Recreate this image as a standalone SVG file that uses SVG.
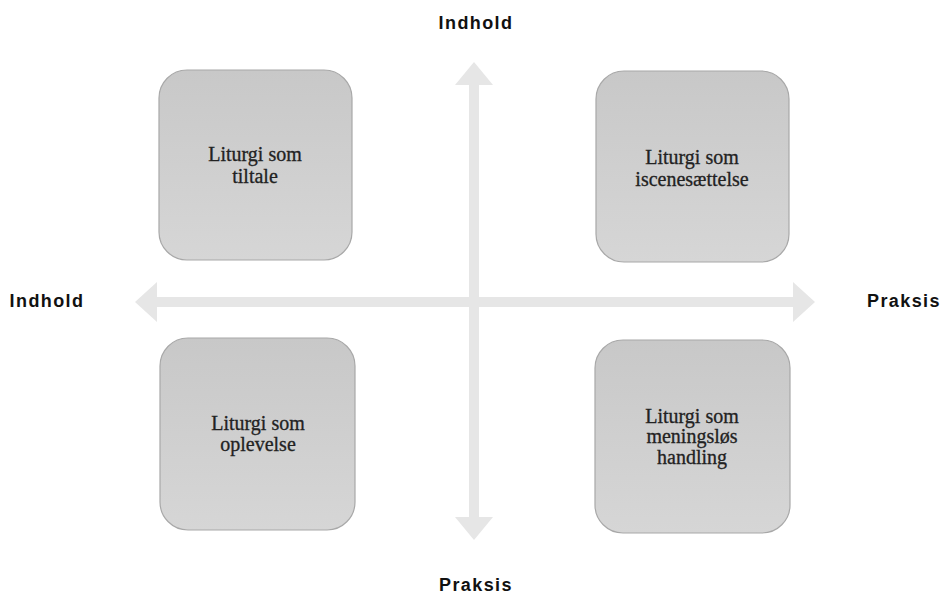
<svg xmlns="http://www.w3.org/2000/svg" width="944" height="598" viewBox="0 0 944 598">
<defs>
<linearGradient id="g" x1="0" y1="0" x2="0" y2="1">
<stop offset="0" stop-color="#c8c8c8"/>
<stop offset="1" stop-color="#d6d6d6"/>
</linearGradient>
<style>
.box{fill:url(#g);stroke:#a8a8a8;stroke-width:1.2}
.bt{font-family:"Liberation Serif",serif;font-size:20px;fill:#222;stroke:#222;stroke-width:0.3;text-anchor:middle}
.ax{font-family:"Liberation Sans",Arial,sans-serif;font-size:18px;font-weight:bold;letter-spacing:1.4px;fill:#111;text-anchor:middle}
.arr{fill:#e6e6e6}
</style>
</defs>
<rect width="944" height="598" fill="#fff"/>
<g id="connectors">
<polygon class="arr" points="135,302 157,282 157,297 793,297 793,282 815,302 793,322 793,307 157,307 157,322"/>
<polygon class="arr" points="474,62 493,85 479,85 479,517 493,517 474,540 455,517 469,517 469,85 455,85"/>
</g>
<g id="n1">
<rect class="box" x="159" y="70" width="193" height="190" rx="28"/>
<text class="bt" x="255" y="161">Liturgi som</text>
<text class="bt" x="255" y="183">tiltale</text>
</g>
<g id="n2">
<rect class="box" x="596" y="71" width="193" height="191" rx="28"/>
<text class="bt" x="692" y="164">Liturgi som</text>
<text class="bt" x="692" y="186">iscenesættelse</text>
</g>
<g id="n3">
<rect class="box" x="160" y="338" width="195" height="192" rx="28"/>
<text class="bt" x="258" y="430">Liturgi som</text>
<text class="bt" x="258" y="451">oplevelse</text>
</g>
<g id="n4">
<rect class="box" x="595" y="340" width="195" height="193" rx="28"/>
<text class="bt" x="692" y="423">Liturgi som</text>
<text class="bt" x="692" y="443">meningsløs</text>
<text class="bt" x="692" y="464">handling</text>
</g>
<g id="labels">
<text class="ax" x="476" y="29">Indhold</text>
<text class="ax" x="47" y="307">Indhold</text>
<text class="ax" x="904" y="307">Praksis</text>
<text class="ax" x="476" y="591">Praksis</text>
</g>
</svg>
